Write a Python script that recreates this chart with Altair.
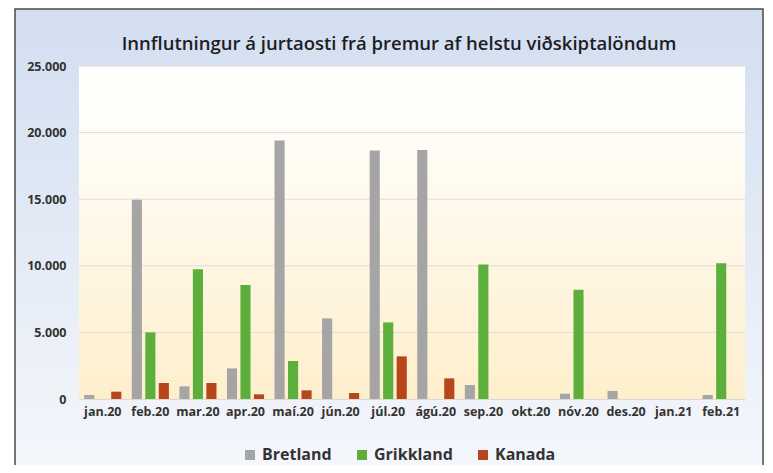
import altair as alt
import pandas as pd

months = ["jan.20", "feb.20", "mar.20", "apr.20", "maí.20", "jún.20", "júl.20",
          "ágú.20", "sep.20", "okt.20", "nóv.20", "des.20", "jan.21", "feb.21"]
bretland = [300, 14950, 950, 2300, 19400, 6050, 18650, 18700, 1050, 0, 400, 600, 0, 300]
grikkland = [0, 5000, 9750, 8550, 2850, 0, 5750, 0, 10100, 0, 8200, 0, 0, 10200]
kanada = [550, 1200, 1200, 350, 650, 450, 3200, 1550, 0, 0, 0, 0, 0, 0]
series = ["Bretland", "Grikkland", "Kanada"]
colors = ["#A5A5A5", "#5BAF3A", "#B8461B"]
y_ticks = [0, 5000, 10000, 15000, 20000, 25000]
grid_values = [5000, 10000, 15000, 20000, 25000]
title_text = "Innflutningur á jurtaosti frá þremur af helstu viðskiptalöndum"

rows = []
for name, vals in zip(series, [bretland, grikkland, kanada]):
    for m, v in zip(months, vals):
        rows.append({"mánuður": m, "land": name, "magn": v})
df = pd.DataFrame(rows)
grid_df = pd.DataFrame({"magn": grid_values})
one = pd.DataFrame({"a": [0]})
title_df = pd.DataFrame({"t": [title_text]})

W, H = 666, 333
FONT = "Open Sans"

outer_bg = alt.Chart(one).mark_rect(
    color=alt.LinearGradient(
        gradient="linear", x1=0, x2=0, y1=0, y2=1,
        stops=[alt.GradientStop(color="#D2DEF1", offset=0),
               alt.GradientStop(color="#E4EBF6", offset=0.5),
               alt.GradientStop(color="#F6F8FC", offset=1)]),
    stroke="#4A4A4A", strokeWidth=1.5
).encode(x=alt.value(-64), x2=alt.value(W + 18), y=alt.value(-57), y2=alt.value(H + 90))

plot_bg = alt.Chart(one).mark_rect(
    color=alt.LinearGradient(
        gradient="linear", x1=0, x2=0, y1=0, y2=1,
        stops=[alt.GradientStop(color="#FFFFFF", offset=0),
               alt.GradientStop(color="#FFFBF0", offset=0.35),
               alt.GradientStop(color="#FEEFCC", offset=1)])
).encode(x=alt.value(0), x2=alt.value(W), y=alt.value(0), y2=alt.value(H))

title = alt.Chart(title_df).mark_text(
    font=FONT, fontSize=18.5, fontWeight=600, color="#1E1E1E",
    align="center", baseline="middle"
).encode(text="t:N", x=alt.value(320), y=alt.value(-22))

y_scale = alt.Scale(domain=[0, 25000], nice=False)
y_axis = alt.Axis(title=None, values=y_ticks, grid=False, ticks=False, domain=False,
                  labelExpr="replace(format(datum.value, ','), ',', '.')",
                  labelFont=FONT, labelFontSize=12.5, labelFontWeight="bold",
                  labelColor="#333333", labelPadding=13, zindex=1)

grid = alt.Chart(grid_df).mark_rule(color="#DCDCDC", strokeWidth=1).encode(
    y=alt.Y("magn:Q", scale=y_scale, axis=y_axis),
    x=alt.value(0), x2=alt.value(W)
)

bars = alt.Chart(df).mark_bar().encode(
    x=alt.X("mánuður:N", sort=months,
            scale=alt.Scale(paddingInner=0.22, paddingOuter=0.11),
            axis=alt.Axis(title=None, labelAngle=0, ticks=False, domain=True,
                          domainColor="#D9D9D9", labelFont=FONT, labelFontSize=12.5,
                          labelFontWeight="bold", labelColor="#333333", labelPadding=6,
                          zindex=1)),
    xOffset=alt.XOffset("land:N", sort=series,
                        scale=alt.Scale(paddingInner=0.25, paddingOuter=0)),
    y=alt.Y("magn:Q", scale=y_scale, axis=y_axis),
    color=alt.Color("land:N", sort=series,
                    scale=alt.Scale(domain=series, range=colors),
                    legend=alt.Legend(title=None, orient="none", direction="horizontal",
                                      legendX=163, legendY=381, symbolType="square",
                                      symbolSize=100, symbolStrokeWidth=0,
                                      labelFont=FONT, labelFontSize=16,
                                      labelFontWeight="bold", labelColor="#333333",
                                      columnPadding=22, labelOffset=4))
)

chart = alt.layer(outer_bg, plot_bg, grid, bars, title).properties(
    width=W, height=H,
    autosize=alt.AutoSizeParams(type="none"),
    padding={"left": 71, "top": 58, "right": 20, "bottom": 66},
).configure_view(stroke=None).configure(background="white")

chart.save("out.html", embed_options={"renderer": "svg", "actions": False})
